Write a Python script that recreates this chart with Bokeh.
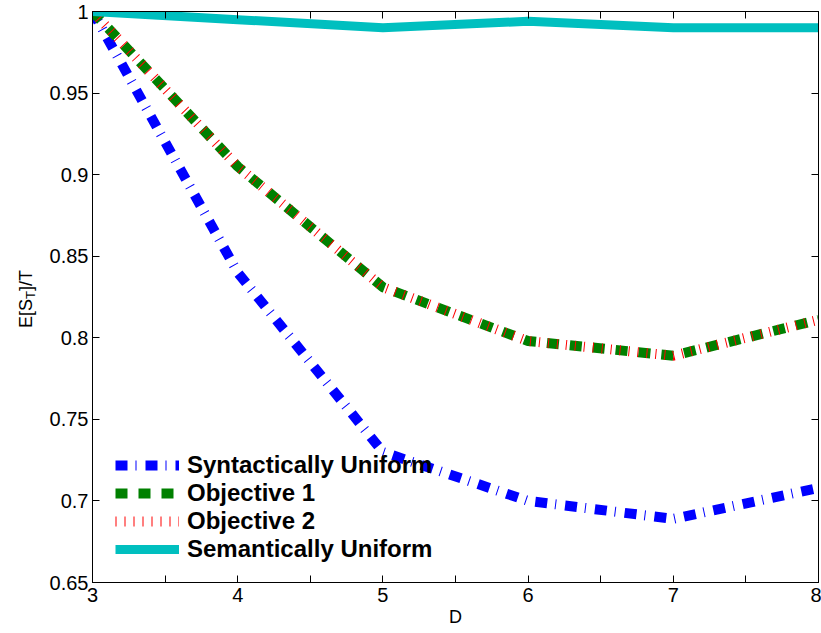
from bokeh.plotting import figure
from bokeh.models import FixedTicker, LinearAxis, Legend, LegendItem, Range1d, Label
from bokeh.layouts import row
from bokeh.embed import file_html
from bokeh.resources import INLINE

# ---- data ----
D = [3, 4, 5, 6, 7, 8]
syntactically_uniform = [1.0, 0.840, 0.730, 0.700, 0.689, 0.708]
objective_1 = [1.0, 0.905, 0.831, 0.798, 0.789, 0.811]
objective_2 = [1.0, 0.905, 0.831, 0.798, 0.789, 0.811]
semantically_uniform = [1.0, 0.995, 0.990, 0.994, 0.990, 0.990]

x_ticks = [3.0, 3.5, 4.0, 4.5, 5.0, 5.5, 6.0, 6.5, 7.0, 7.5, 8.0]
x_tick_labels = ["3", "", "4", "", "5", "", "6", "", "7", "", "8"]
y_ticks = [0.65, 0.7, 0.75, 0.8, 0.85, 0.9, 0.95, 1.0]
y_tick_labels = ["0.65", "0.7", "0.75", "0.8", "0.85", "0.9", "0.95", "1"]
series_names = ["Syntactically Uniform", "Objective 1", "Objective 2", "Semantically Uniform"]
x_label = "D"
y_label_parts = ["E[S", "T", "]/T"]

FONT = "Liberation Sans"
TOP, BOTTOM = 11, 51
LABEL_W = 40

y_range = Range1d(0.65, 1.0)
p = figure(width=821 - LABEL_W, height=633, x_range=Range1d(3, 8), y_range=y_range,
           output_backend="svg", toolbar_location=None,
           min_border_left=92 - LABEL_W, min_border_right=3, min_border_top=TOP, min_border_bottom=BOTTOM)
p.xgrid.visible = False
p.ygrid.visible = False
p.outline_line_color = "black"
p.outline_line_width = 1
p.background_fill_color = "white"
p.border_fill_color = "white"


def style_axis(ax, ticks, labels, show_labels):
    ax.ticker = FixedTicker(ticks=ticks)
    ax.major_label_overrides = {t: l for t, l in zip(ticks, labels)}
    ax.major_tick_in = 7
    ax.major_tick_out = 0
    ax.minor_tick_in = 0
    ax.minor_tick_out = 0
    ax.axis_line_color = "black"
    ax.major_tick_line_color = "black"
    ax.major_label_text_font = FONT
    ax.major_label_text_color = "black"
    if show_labels:
        ax.major_label_text_font_size = "20px"
        ax.major_label_standoff = 5
    else:
        ax.major_label_text_font_size = "0px"
        ax.major_label_standoff = 0


style_axis(p.xaxis[0], x_ticks, x_tick_labels, True)
style_axis(p.yaxis[0], y_ticks, y_tick_labels, True)
p.yaxis[0].major_label_standoff = 4
p.xaxis[0].axis_label = x_label
p.xaxis[0].axis_label_text_font = FONT
p.xaxis[0].axis_label_text_font_size = "18px"
p.xaxis[0].axis_label_text_font_style = "normal"
p.xaxis[0].axis_label_text_color = "black"
p.xaxis[0].axis_label_standoff = 2

top_axis = LinearAxis()
style_axis(top_axis, x_ticks, [""] * len(x_ticks), False)
p.add_layout(top_axis, "above")
right_axis = LinearAxis()
style_axis(right_axis, y_ticks, [""] * len(y_ticks), False)
p.add_layout(right_axis, "right")

r1 = p.line(D, syntactically_uniform, line_color="#0000ff", line_width=10, line_dash="12 8 1 9")
r2 = p.line(D, objective_1, line_color="#008000", line_width=10, line_dash="12 11")
r3 = p.line(D, objective_2, line_color="#ff0000", line_width=10, line_dash="1 8")
r4 = p.line(D, semantically_uniform, line_color="#00bfbf", line_width=9)

legend = Legend(items=[LegendItem(label=n, renderers=[r]) for n, r in zip(series_names, [r1, r2, r3, r4])],
                location=(23, 19), padding=0, margin=0, spacing=0,
                glyph_width=64, glyph_height=20, label_height=20, label_standoff=8,
                label_text_font=FONT, label_text_font_size="24px", label_text_font_style="bold",
                label_text_color="black", border_line_color=None, background_fill_alpha=0)
p.add_layout(legend, "center")

# y-axis label E[S_T]/T in a narrow side panel (subscript T)
q = figure(width=LABEL_W, height=633, x_range=Range1d(0, LABEL_W), y_range=y_range,
           output_backend="svg", toolbar_location=None,
           x_axis_location=None, y_axis_location=None,
           min_border_left=0, min_border_right=0, min_border_top=TOP, min_border_bottom=BOTTOM)
q.xgrid.visible = False
q.ygrid.visible = False
q.outline_line_color = None
q.border_fill_color = "white"
q.background_fill_color = "white"
lab_y = 0.806
sizes = ["18px", "13px", "18px"]
xs = [25, 30, 25]
offs = [0, 29, 37]
for part, sz, xx, off in zip(y_label_parts, sizes, xs, offs):
    q.add_layout(Label(x=xx, y=lab_y, x_units="screen", y_units="data", y_offset=off,
                       text=part, angle=90, angle_units="deg",
                       text_font=FONT, text_font_size=sz, text_align="left",
                       text_baseline="alphabetic", text_color="black"))

layout = row(q, p, spacing=0)
open("out.html", "w").write(file_html(layout, INLINE))
